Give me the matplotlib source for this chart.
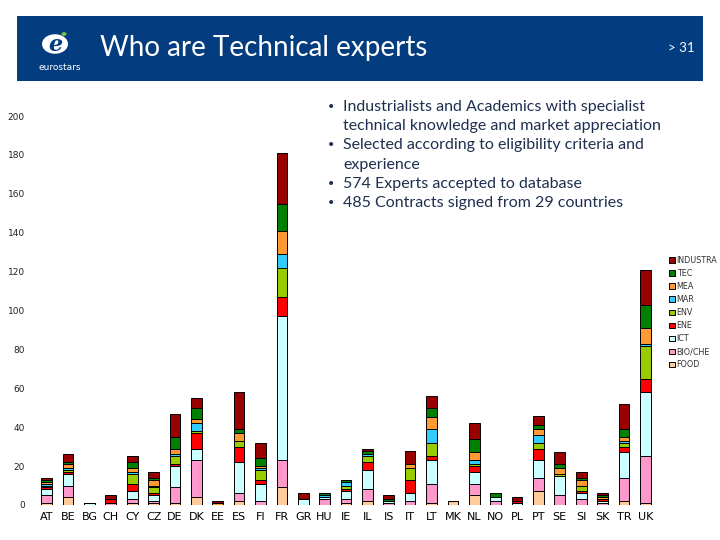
import numpy as np
import matplotlib
matplotlib.use('Agg')
import matplotlib.pyplot as plt
from matplotlib.patches import Rectangle, Circle

countries = ['AT','BE','BG','CH','CY','CZ','DE','DK','EE','ES','FI','FR','GR','HU','IE',
             'IL','IS','IT','LT','MK','NL','NO','PL','PT','SE','SI','SK','TR','UK']

# experts per sector, stacked bottom -> top
food = [1,4,0,0,1,1,1,4,0,2,0,9,0,0,1,2,0,0,1,2,5,0,0,7,0,0,0,2,1]
bio  = [4,6,0,1,2,1,8,19,0,4,2,14,0,3,2,6,1,2,10,0,6,2,0,7,5,3,1,12,24]
ict  = [3,6,1,0,4,3,11,6,0,16,9,74,3,1,4,10,1,4,12,0,6,2,1,9,10,3,1,13,33]
ene  = [1,1,0,2,4,1,1,8,0,8,2,10,0,0,1,4,0,7,2,0,3,0,1,6,0,1,1,3,7]
env  = [1,1,0,0,5,3,4,1,0,3,5,15,0,0,2,3,0,6,7,0,1,0,0,3,1,3,0,2,17]
mar  = [1,1,0,0,1,1,1,4,0,0,1,7,0,1,2,1,0,0,7,0,2,0,0,4,0,0,0,1,1]
mea  = [1,2,0,0,2,3,3,2,1,4,1,12,0,0,0,0,0,2,6,0,4,0,0,3,3,3,1,2,8]
tec  = [1,1,0,0,3,1,6,6,0,2,4,14,0,1,1,2,1,0,5,0,7,2,0,2,2,1,1,4,12]
ind  = [1,4,0,2,3,3,12,5,1,19,8,26,3,0,0,1,2,7,6,0,8,0,2,5,6,3,1,13,18]

sectors = ['FOOD','BIO/CHE','ICT','ENE','ENV','MAR','MEA','TEC','INDUSTRA']
colors = ['#ffcc99','#ff99cc','#ccffff','#ff0000','#99cc00','#33ccff','#ff9933','#008000','#990000']
series = [food, bio, ict, ene, env, mar, mea, tec, ind]

bullets = [['Industrialists and Academics with specialist',
            'technical knowledge and market appreciation'],
           ['Selected according to eligibility criteria and', 'experience'],
           ['574 Experts accepted to database'],
           ['485 Contracts signed from 29 countries']]

fig = plt.figure(figsize=(7.2, 5.4), dpi=100)

# header band
fig.patches.append(Rectangle((17/720, 1-81/540), 686/720, 65/540, transform=fig.transFigure,
                             facecolor='#033d7f', edgecolor='none', zorder=0))
fig.patches.append(Circle((55/720, 1-44/540), 13/720, transform=fig.transFigure,
                          facecolor='white', edgecolor='none', zorder=1))
fig.text(55/720, 1-45/540, 'e', color='#033d7f', fontsize=16, style='italic',
         fontweight='bold', ha='center', va='center', family='DejaVu Serif')
fig.patches.append(Circle((64/720, 1-34/540), 2.5/720, transform=fig.transFigure,
                          facecolor='#7cc242', edgecolor='none', zorder=2))
fig.text(60/720, 1-68/540, 'eurostars', color='white', fontsize=6.5, ha='center', va='center')
fig.text(100/720, 1-48/540, 'Who are Technical experts', color='white', fontsize=20,
         ha='left', va='center', family='Lato')
fig.text(668/720, 1-48/540, '> 31', color='white', fontsize=9.5, ha='left', va='center', family='Lato')

ax = fig.add_axes([36/720, 35/540, 620/720, 389/540])
x = np.arange(len(countries))
bottom = np.zeros(len(countries))
handles = []
for name, col, vals in zip(sectors, colors, series):
    vals = np.array(vals)
    b = ax.bar(x, vals, 0.5, bottom=bottom, color=col, edgecolor='black', linewidth=0.7, label=name)
    handles.append(b)
    bottom += vals

ax.set_xlim(-0.5, len(countries) - 0.5)
ax.set_ylim(0, 200)
ax.set_yticks(range(0, 201, 20))
ax.set_xticks(x)
ax.set_xticklabels(countries, fontsize=8)
ax.tick_params(axis='y', labelsize=6.5, length=0, pad=8, labelcolor='#222222')
ax.tick_params(axis='x', length=0, pad=5)
for s in ax.spines.values():
    s.set_visible(False)

leg = fig.legend(handles[::-1], sectors[::-1], loc='upper left', bbox_to_anchor=(665/720, 1-252/540),
                 frameon=False, fontsize=5.8, handlelength=0.7, handleheight=0.7,
                 handletextpad=0.25, labelspacing=0.5, borderpad=0)
for t in leg.get_texts():
    t.set_color('#333333')

y = 107
for lines in bullets:
    fig.text(327/720, 1-y/540, '\u2022', color='#1f2f4f', fontsize=10, ha='left', va='center')
    for line in lines:
        fig.text(343/720, 1-y/540, line, color='#1f2f4f', fontsize=11.5, ha='left', va='center',
                 family='Lato')
        y += 19.2

fig.savefig('out.png', dpi=100)
